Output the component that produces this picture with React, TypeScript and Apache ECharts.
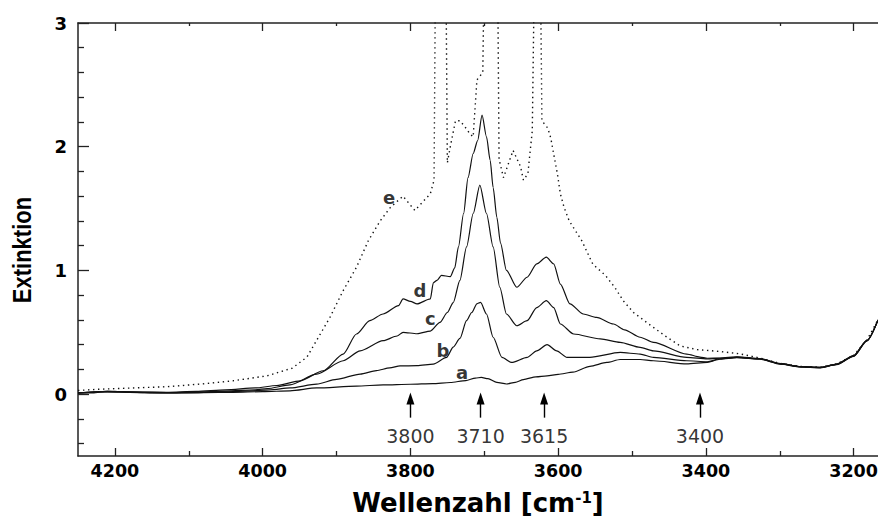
import React, { useEffect, useRef } from 'react';
import * as echarts from 'echarts';

const X_MIN = 3167;
const X_MAX = 4250;
const Y_MIN = -0.5;
const Y_MAX = 3;

const xMajorTicks = [4200, 4000, 3800, 3600, 3400, 3200];
const xMinorTicks = [4100, 3900, 3700, 3500, 3300];
const yMajorTicks = [0, 1, 2, 3];
const yMinorTicks = [-0.4, -0.2, 0.2, 0.4, 0.6, 0.8, 1.2, 1.4, 1.6, 1.8, 2.2, 2.4, 2.6, 2.8];

const curveA: [number, number][] = [
  [4250, 0.012], [4230, 0.01], [4210, 0.025], [4190, 0.02], [4160, 0.012], [4120, 0.01], [4080, 0.012],
  [4040, 0.015], [4000, 0.02], [3963, 0.027], [3927, 0.05], [3873, 0.065], [3837, 0.075], [3800, 0.08],
  [3770, 0.085], [3746, 0.094], [3725, 0.11], [3712, 0.13], [3704, 0.135], [3695, 0.125], [3683, 0.095],
  [3670, 0.082], [3658, 0.095], [3647, 0.118], [3630, 0.14], [3615, 0.148], [3600, 0.16], [3580, 0.178],
  [3557, 0.225], [3534, 0.256], [3516, 0.28], [3489, 0.28], [3471, 0.27], [3426, 0.245], [3398, 0.257],
  [3381, 0.282], [3358, 0.295], [3327, 0.282], [3299, 0.242], [3272, 0.22], [3245, 0.213], [3223, 0.238],
  [3200, 0.305], [3182, 0.43], [3167, 0.6],
];

const curveB: [number, number][] = [
  [4250, 0.008], [4210, 0.02], [4180, 0.015], [4140, 0.01], [4100, 0.012], [4060, 0.018], [4020, 0.025],
  [3990, 0.035], [3963, 0.05], [3927, 0.081], [3900, 0.12], [3868, 0.162], [3846, 0.19], [3828, 0.212],
  [3814, 0.228], [3791, 0.23], [3769, 0.243], [3751, 0.297], [3742, 0.38], [3733, 0.45], [3724, 0.594],
  [3717, 0.66], [3710, 0.73], [3705, 0.742], [3697, 0.648], [3688, 0.46], [3676, 0.297], [3663, 0.256],
  [3642, 0.297], [3629, 0.35], [3615, 0.4], [3602, 0.35], [3588, 0.297], [3557, 0.297], [3516, 0.337],
  [3489, 0.324], [3471, 0.297], [3426, 0.27], [3398, 0.262], [3381, 0.285], [3358, 0.298], [3327, 0.284],
  [3299, 0.244], [3272, 0.221], [3245, 0.215], [3223, 0.24], [3200, 0.308], [3182, 0.432], [3167, 0.6],
];

const curveC: [number, number][] = [
  [4250, 0.01], [4210, 0.02], [4170, 0.015], [4130, 0.012], [4090, 0.018], [4050, 0.025], [4010, 0.035],
  [3994, 0.045], [3963, 0.075], [3927, 0.162], [3891, 0.27], [3868, 0.35], [3837, 0.432], [3818, 0.47],
  [3810, 0.5], [3791, 0.488], [3773, 0.51], [3760, 0.58], [3750, 0.66], [3742, 0.74], [3733, 0.92],
  [3724, 1.19], [3715, 1.46], [3706, 1.69], [3697, 1.46], [3688, 1.19], [3679, 0.864], [3670, 0.648],
  [3656, 0.553], [3642, 0.594], [3629, 0.7], [3616, 0.756], [3606, 0.7], [3597, 0.567], [3579, 0.486],
  [3543, 0.446], [3516, 0.418], [3489, 0.378], [3471, 0.35], [3426, 0.297], [3398, 0.284], [3381, 0.29],
  [3358, 0.3], [3327, 0.286], [3299, 0.245], [3272, 0.222], [3245, 0.216], [3223, 0.242], [3200, 0.31],
  [3182, 0.433], [3167, 0.6],
];

const curveD: [number, number][] = [
  [4250, 0.01], [4210, 0.02], [4170, 0.018], [4130, 0.015], [4090, 0.022], [4050, 0.035], [4010, 0.05],
  [3981, 0.07], [3949, 0.108], [3918, 0.189], [3891, 0.324], [3873, 0.486], [3855, 0.594], [3837, 0.648],
  [3816, 0.716], [3810, 0.77], [3800, 0.75], [3791, 0.73], [3773, 0.77], [3769, 0.9], [3764, 0.92],
  [3758, 0.96], [3746, 0.95], [3740, 1.02], [3735, 1.19], [3728, 1.46], [3722, 1.75], [3715, 1.945],
  [3709, 2.05], [3703, 2.255], [3697, 2.08], [3692, 1.89], [3688, 1.67], [3683, 1.43], [3678, 1.22],
  [3670, 1.0], [3656, 0.864], [3642, 0.945], [3629, 1.053], [3616, 1.107], [3606, 1.053], [3597, 0.89],
  [3584, 0.73], [3566, 0.648], [3548, 0.62], [3525, 0.567], [3510, 0.52], [3489, 0.46], [3471, 0.418],
  [3426, 0.324], [3408, 0.3], [3398, 0.29], [3381, 0.292], [3358, 0.302], [3327, 0.288], [3299, 0.247],
  [3272, 0.223], [3245, 0.217], [3223, 0.243], [3200, 0.312], [3182, 0.435], [3167, 0.6],
];

const curveE: [number, number][] = [
  [4250, 0.03], [4220, 0.04], [4130, 0.06], [4085, 0.081], [4040, 0.108], [3994, 0.148], [3960, 0.21],
  [3940, 0.3], [3909, 0.62], [3891, 0.837], [3873, 1.026], [3857, 1.24], [3841, 1.4], [3827, 1.51],
  [3810, 1.6], [3794, 1.485], [3773, 1.62], [3768, 1.73], [3766, 3.5], [3752, 3.5], [3750, 1.87],
  [3746, 2.0], [3739, 2.21], [3733, 2.21], [3726, 2.16], [3719, 2.1], [3715, 2.08], [3710, 2.54],
  [3702, 2.6], [3700, 3.5], [3682, 3.5], [3680, 1.9], [3674, 1.75], [3661, 1.97], [3651, 1.84],
  [3647, 1.73], [3641, 1.78], [3635, 2.13], [3632, 3.5], [3624, 3.5], [3622, 2.21], [3614, 2.15],
  [3610, 2.07], [3606, 1.94], [3601, 1.78], [3597, 1.62], [3592, 1.51], [3585, 1.4], [3568, 1.24],
  [3553, 1.05], [3536, 0.96], [3523, 0.86], [3512, 0.756], [3498, 0.66], [3478, 0.57], [3455, 0.47],
  [3435, 0.39], [3412, 0.36], [3381, 0.345], [3354, 0.326], [3327, 0.292], [3299, 0.248], [3272, 0.224],
  [3245, 0.218], [3223, 0.244], [3200, 0.314], [3182, 0.437], [3167, 0.6],
];

const curveNames = ['a', 'b', 'c', 'd', 'e'];
const curveLabelPos: [number, number][] = [
  [3730, 0.175], [3756, 0.351], [3773, 0.61], [3787, 0.837], [3829, 1.593],
];

const arrowLabels = ['3800', '3710', '3615', '3400'];
const arrowX = [3800, 3705, 3619, 3408];
const arrowBaseY = -0.19;
const arrowHeadY = -0.035;
const arrowTextY = -0.338;

const AXIS_COLOR = '#222';
const BOLD_FONT = 'DejaVu Sans';

export default function App() {
  const ref = useRef<HTMLDivElement>(null);

  useEffect(() => {
    if (!ref.current) return;
    const chart = echarts.init(ref.current, undefined, { renderer: 'svg' });

    const axisLineStyle = { color: AXIS_COLOR, width: 1.5 };
    const tickLineStyle = { color: AXIS_COLOR, width: 1.3 };
    const plain = (v: number) => String(v);

    const xBase = {
      type: 'value' as const,
      min: X_MIN,
      max: X_MAX,
      inverse: true,
      gridIndex: 0,
      splitLine: { show: false },
    };
    const yBase = {
      type: 'value' as const,
      min: Y_MIN,
      max: Y_MAX,
      gridIndex: 0,
      splitLine: { show: false },
    };

    const lineSeries = [curveA, curveB, curveC, curveD, curveE].map((d, i) => ({
      name: curveNames[i],
      type: 'line',
      data: d,
      showSymbol: false,
      symbol: 'none',
      clip: true,
      silent: true,
      smooth: i === 4 ? false : 0.25,
      smoothMonotone: 'x',
      lineStyle: {
        color: '#111',
        width: i === 4 ? 1.4 : 1.2,
        type: i === 4 ? [1.4, 3.6] : 'solid',
      },
      z: 3,
    }));

    const textLabel = {
      show: true,
      position: 'inside',
      color: '#000',
      textBorderWidth: 0,
      textShadowBlur: 0,
    };

    const option: any = {
      animation: false,
      backgroundColor: '#fff',
      grid: { left: 78, right: 0, top: 23, bottom: 64, outerBoundsMode: 'none', containLabel: false },
      xAxis: [
        {
          ...xBase,
          position: 'bottom',
          axisLine: { show: true, onZero: false, lineStyle: axisLineStyle },
          axisTick: { show: true, inside: true, length: 8, customValues: xMajorTicks, lineStyle: tickLineStyle },
          axisLabel: {
            show: true,
            customValues: xMajorTicks,
            formatter: plain,
            margin: 6,
            fontFamily: BOLD_FONT,
            fontWeight: 'bold',
            fontSize: 17.5,
            color: '#000',
          },
          name: '{t|Wellenzahl [cm}{s|-1}{t|]}',
          nameLocation: 'middle',
          nameGap: 34,
          nameTextStyle: {
            rich: {
              t: { fontFamily: BOLD_FONT, fontWeight: 'bold', fontSize: 26, color: '#000' },
              s: { fontFamily: BOLD_FONT, fontWeight: 'bold', fontSize: 15, color: '#000', verticalAlign: 'top' },
            },
          },
        },
        {
          ...xBase,
          position: 'bottom',
          axisLine: { show: false, onZero: false },
          axisTick: { show: true, inside: true, length: 5, customValues: xMinorTicks, lineStyle: tickLineStyle },
          axisLabel: { show: false },
        },
        {
          ...xBase,
          position: 'top',
          axisLine: { show: true, onZero: false, lineStyle: axisLineStyle },
          axisTick: { show: true, inside: true, length: 8, customValues: xMajorTicks, lineStyle: tickLineStyle },
          axisLabel: { show: false },
        },
        {
          ...xBase,
          position: 'top',
          axisLine: { show: false, onZero: false },
          axisTick: { show: true, inside: true, length: 3, customValues: xMinorTicks, lineStyle: tickLineStyle },
          axisLabel: { show: false },
        },
      ],
      yAxis: [
        {
          ...yBase,
          position: 'left',
          axisLine: { show: true, onZero: false, lineStyle: axisLineStyle },
          axisTick: { show: true, inside: true, length: 11, customValues: yMajorTicks, lineStyle: tickLineStyle },
          axisLabel: {
            show: true,
            customValues: yMajorTicks,
            formatter: plain,
            margin: 11,
            fontFamily: BOLD_FONT,
            fontWeight: 'bold',
            fontSize: 18,
            color: '#000',
          },
        },
        {
          ...yBase,
          position: 'left',
          axisLine: { show: false, onZero: false },
          axisTick: { show: true, inside: true, length: 6, customValues: yMinorTicks, lineStyle: tickLineStyle },
          axisLabel: { show: false },
        },
      ],
      graphic: [
        {
          type: 'text',
          x: 22,
          y: 250,
          rotation: Math.PI / 2,
          scaleY: 1.2,
          style: {
            text: 'Extinktion',
            font: 'bold 22px "Liberation Sans"',
            fill: '#000',
            align: 'center',
            verticalAlign: 'middle',
          },
        },
      ],
      series: [
        ...lineSeries,
        {
          name: 'curveLabels',
          type: 'scatter',
          data: curveLabelPos,
          symbolSize: 0,
          silent: true,
          itemStyle: { color: '#000' },
          z: 5,
          label: {
            ...textLabel,
            formatter: (p: any) => curveNames[p.dataIndex],
            fontFamily: BOLD_FONT,
            fontWeight: 'bold',
            fontSize: 18,
          },
        },
        {
          name: 'bands',
          type: 'scatter',
          data: arrowX.map((x) => [x, arrowTextY]),
          symbolSize: 0,
          silent: true,
          itemStyle: { color: '#000' },
          z: 5,
          label: {
            ...textLabel,
            formatter: (p: any) => arrowLabels[p.dataIndex],
            fontFamily: BOLD_FONT,
            fontWeight: 'normal',
            fontSize: 19,
          },
          markLine: {
            silent: true,
            animation: false,
            symbol: ['none', 'triangle'],
            symbolSize: [0, 10],
            label: { show: false },
            emphasis: { disabled: true },
            lineStyle: { color: '#000', width: 1.4, type: 'solid' },
            data: arrowX.map((x) => [
              { coord: [x, arrowBaseY], symbol: 'none' },
              { coord: [x, arrowHeadY], symbol: 'triangle', symbolSize: [8, 12] },
            ]),
          },
        },
      ],
    };

    chart.setOption(option);
    return () => {
      chart.dispose();
    };
  }, []);

  return (
    <div
      ref={ref}
      style={{ position: 'absolute', left: 0, top: 0, width: 878, height: 520, background: '#fff' }}
    />
  );
}
